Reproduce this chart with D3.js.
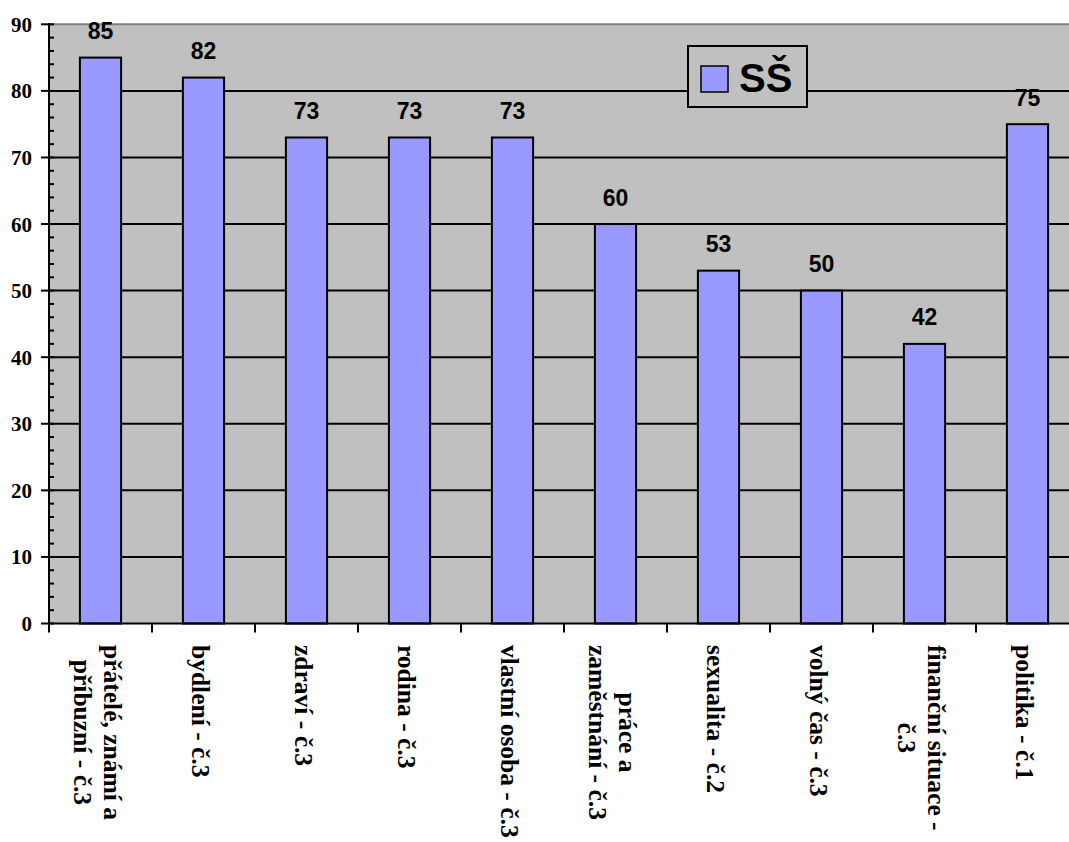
<!DOCTYPE html>
<html>
<head>
<meta charset="utf-8">
<script src="https://cdn.jsdelivr.net/npm/d3@7/dist/d3.min.js"></script>
<style>
  html, body { margin: 0; padding: 0; background: #ffffff; }
  svg { display: block; }
</style>
</head>
<body>
<svg id="chart" width="1069" height="842"></svg>
<script>
// Categories (line breaks marked with \n), values and axis ticks
const categories = [
  "přátelé, známí a\npříbuzní - č.3",
  "bydlení - č.3",
  "zdraví - č.3",
  "rodina - č.3",
  "vlastní osoba - č.3",
  "práce a\nzaměstnání - č.3",
  "sexualita - č.2",
  "volný čas - č.3",
  "finanční situace -\nč.3",
  "politika - č.1"
];
const values = [85, 82, 73, 73, 73, 60, 53, 50, 42, 75];
const seriesName = "SŠ";
const yTicks = [0, 10, 20, 30, 40, 50, 60, 70, 80, 90];
const yMinorTicks = d3.range(0, 90, 2).filter(v => v % 10 !== 0);

const svg = d3.select("#chart");

// Plot area (right edge runs past the page)
const plotLeft = 49, plotRight = 1079, plotTop = 24.3, plotBottom = 623.5;

const x = d3.scaleBand().domain(categories).range([plotLeft, plotRight]).padding(0);
const y = d3.scaleLinear().domain([0, 90]).range([plotBottom, plotTop]);
const barW = x.bandwidth() * 0.4;

const serif = "'Liberation Serif', 'Times New Roman', serif";
const sans = "'Liberation Sans', Arial, sans-serif";

// Plot background
svg.append("rect")
  .attr("x", plotLeft).attr("y", plotTop)
  .attr("width", plotRight - plotLeft).attr("height", plotBottom - plotTop)
  .attr("fill", "#c0c0c0");

// Top border of the plot
svg.append("line")
  .attr("x1", plotLeft).attr("x2", plotRight)
  .attr("y1", plotTop).attr("y2", plotTop)
  .attr("stroke", "#808080").attr("stroke-width", 2);

// Horizontal gridlines
svg.append("g")
  .selectAll("line")
  .data(yTicks.filter(v => v > 0 && v < 90))
  .join("line")
  .attr("x1", plotLeft).attr("x2", plotRight)
  .attr("y1", d => y(d)).attr("y2", d => y(d))
  .attr("stroke", "#000").attr("stroke-width", 2);

// Bars
svg.append("g")
  .selectAll("rect")
  .data(values)
  .join("rect")
  .attr("x", (d, i) => x(categories[i]) + (x.bandwidth() - barW) / 2)
  .attr("y", d => y(d))
  .attr("width", barW)
  .attr("height", d => y(0) - y(d))
  .attr("fill", "#9999ff")
  .attr("stroke", "#000")
  .attr("stroke-width", 2);

// Value labels above the bars
svg.append("g")
  .selectAll("text")
  .data(values)
  .join("text")
  .attr("x", (d, i) => x(categories[i]) + x.bandwidth() / 2)
  .attr("y", d => y(d) - 18.5)
  .attr("text-anchor", "middle")
  .attr("font-family", sans)
  .attr("font-weight", "bold")
  .attr("font-size", 23)
  .attr("fill", "#000")
  .text(d => d);

// Y axis: major ticks cross the axis, minor ticks point inward
const yAxis = svg.append("g");
yAxis.append("line")
  .attr("x1", plotLeft).attr("x2", plotLeft)
  .attr("y1", plotTop - 1).attr("y2", plotBottom + 9)
  .attr("stroke", "#000").attr("stroke-width", 2);
yAxis.selectAll("line.major")
  .data(yTicks)
  .join("line")
  .attr("class", "major")
  .attr("x1", plotLeft - 8).attr("x2", plotLeft + 5)
  .attr("y1", d => y(d)).attr("y2", d => y(d))
  .attr("stroke", "#000").attr("stroke-width", 2);
yAxis.selectAll("line.minor")
  .data(yMinorTicks)
  .join("line")
  .attr("class", "minor")
  .attr("x1", plotLeft).attr("x2", plotLeft + 5)
  .attr("y1", d => y(d)).attr("y2", d => y(d))
  .attr("stroke", "#000").attr("stroke-width", 2);
yAxis.selectAll("text")
  .data(yTicks)
  .join("text")
  .attr("x", 32)
  .attr("y", d => y(d))
  .attr("dy", "0.36em")
  .attr("text-anchor", "end")
  .attr("font-family", serif)
  .attr("font-weight", "bold")
  .attr("font-size", 21)
  .attr("fill", "#000")
  .text(d => d);

// X axis line and ticks between categories
const xAxis = svg.append("g");
xAxis.append("line")
  .attr("x1", plotLeft).attr("x2", plotRight)
  .attr("y1", plotBottom).attr("y2", plotBottom)
  .attr("stroke", "#000").attr("stroke-width", 2);
xAxis.selectAll("line.tick")
  .data(categories.slice(1))
  .join("line")
  .attr("class", "tick")
  .attr("x1", d => x(d)).attr("x2", d => x(d))
  .attr("y1", plotBottom).attr("y2", plotBottom + 9)
  .attr("stroke", "#000").attr("stroke-width", 2);

// Category labels, rotated to read top-down, lines centred on each other
const labelTop = 645;
const lineStep = 30;
const labelGroups = xAxis.selectAll("g.label")
  .data(categories)
  .join("g")
  .attr("class", "label");
labelGroups.each(function(cat) {
  const g = d3.select(this);
  const lines = cat.split("\n");
  const t = g.append("text")
    .attr("text-anchor", "middle")
    .attr("font-family", serif)
    .attr("font-weight", "bold")
    .attr("font-size", 25.5)
    .attr("fill", "#000");
  lines.forEach((ln, j) => {
    t.append("tspan")
      .attr("x", 0)
      .attr("y", (j - (lines.length - 1) / 2) * lineStep)
      .attr("dy", "0.33em")
      .text(ln);
  });
  const maxLen = d3.max(t.selectAll("tspan").nodes(), n => n.getComputedTextLength());
  const cx = x(cat) + x.bandwidth() / 2 - 3;
  g.attr("transform", `translate(${cx},${labelTop + maxLen / 2}) rotate(90)`);
});

// Legend
const legend = svg.append("g");
legend.append("rect")
  .attr("x", 688).attr("y", 46)
  .attr("width", 119).attr("height", 61)
  .attr("fill", "#c0c0c0")
  .attr("stroke", "#000").attr("stroke-width", 2);
legend.append("rect")
  .attr("x", 701).attr("y", 66)
  .attr("width", 27).attr("height", 26)
  .attr("fill", "#9999ff")
  .attr("stroke", "#000").attr("stroke-width", 1.5);
legend.append("text")
  .attr("x", 739).attr("y", 92)
  .attr("font-family", sans)
  .attr("font-weight", "bold")
  .attr("font-size", 40)
  .attr("fill", "#000")
  .text(seriesName);
</script>
</body>
</html>
